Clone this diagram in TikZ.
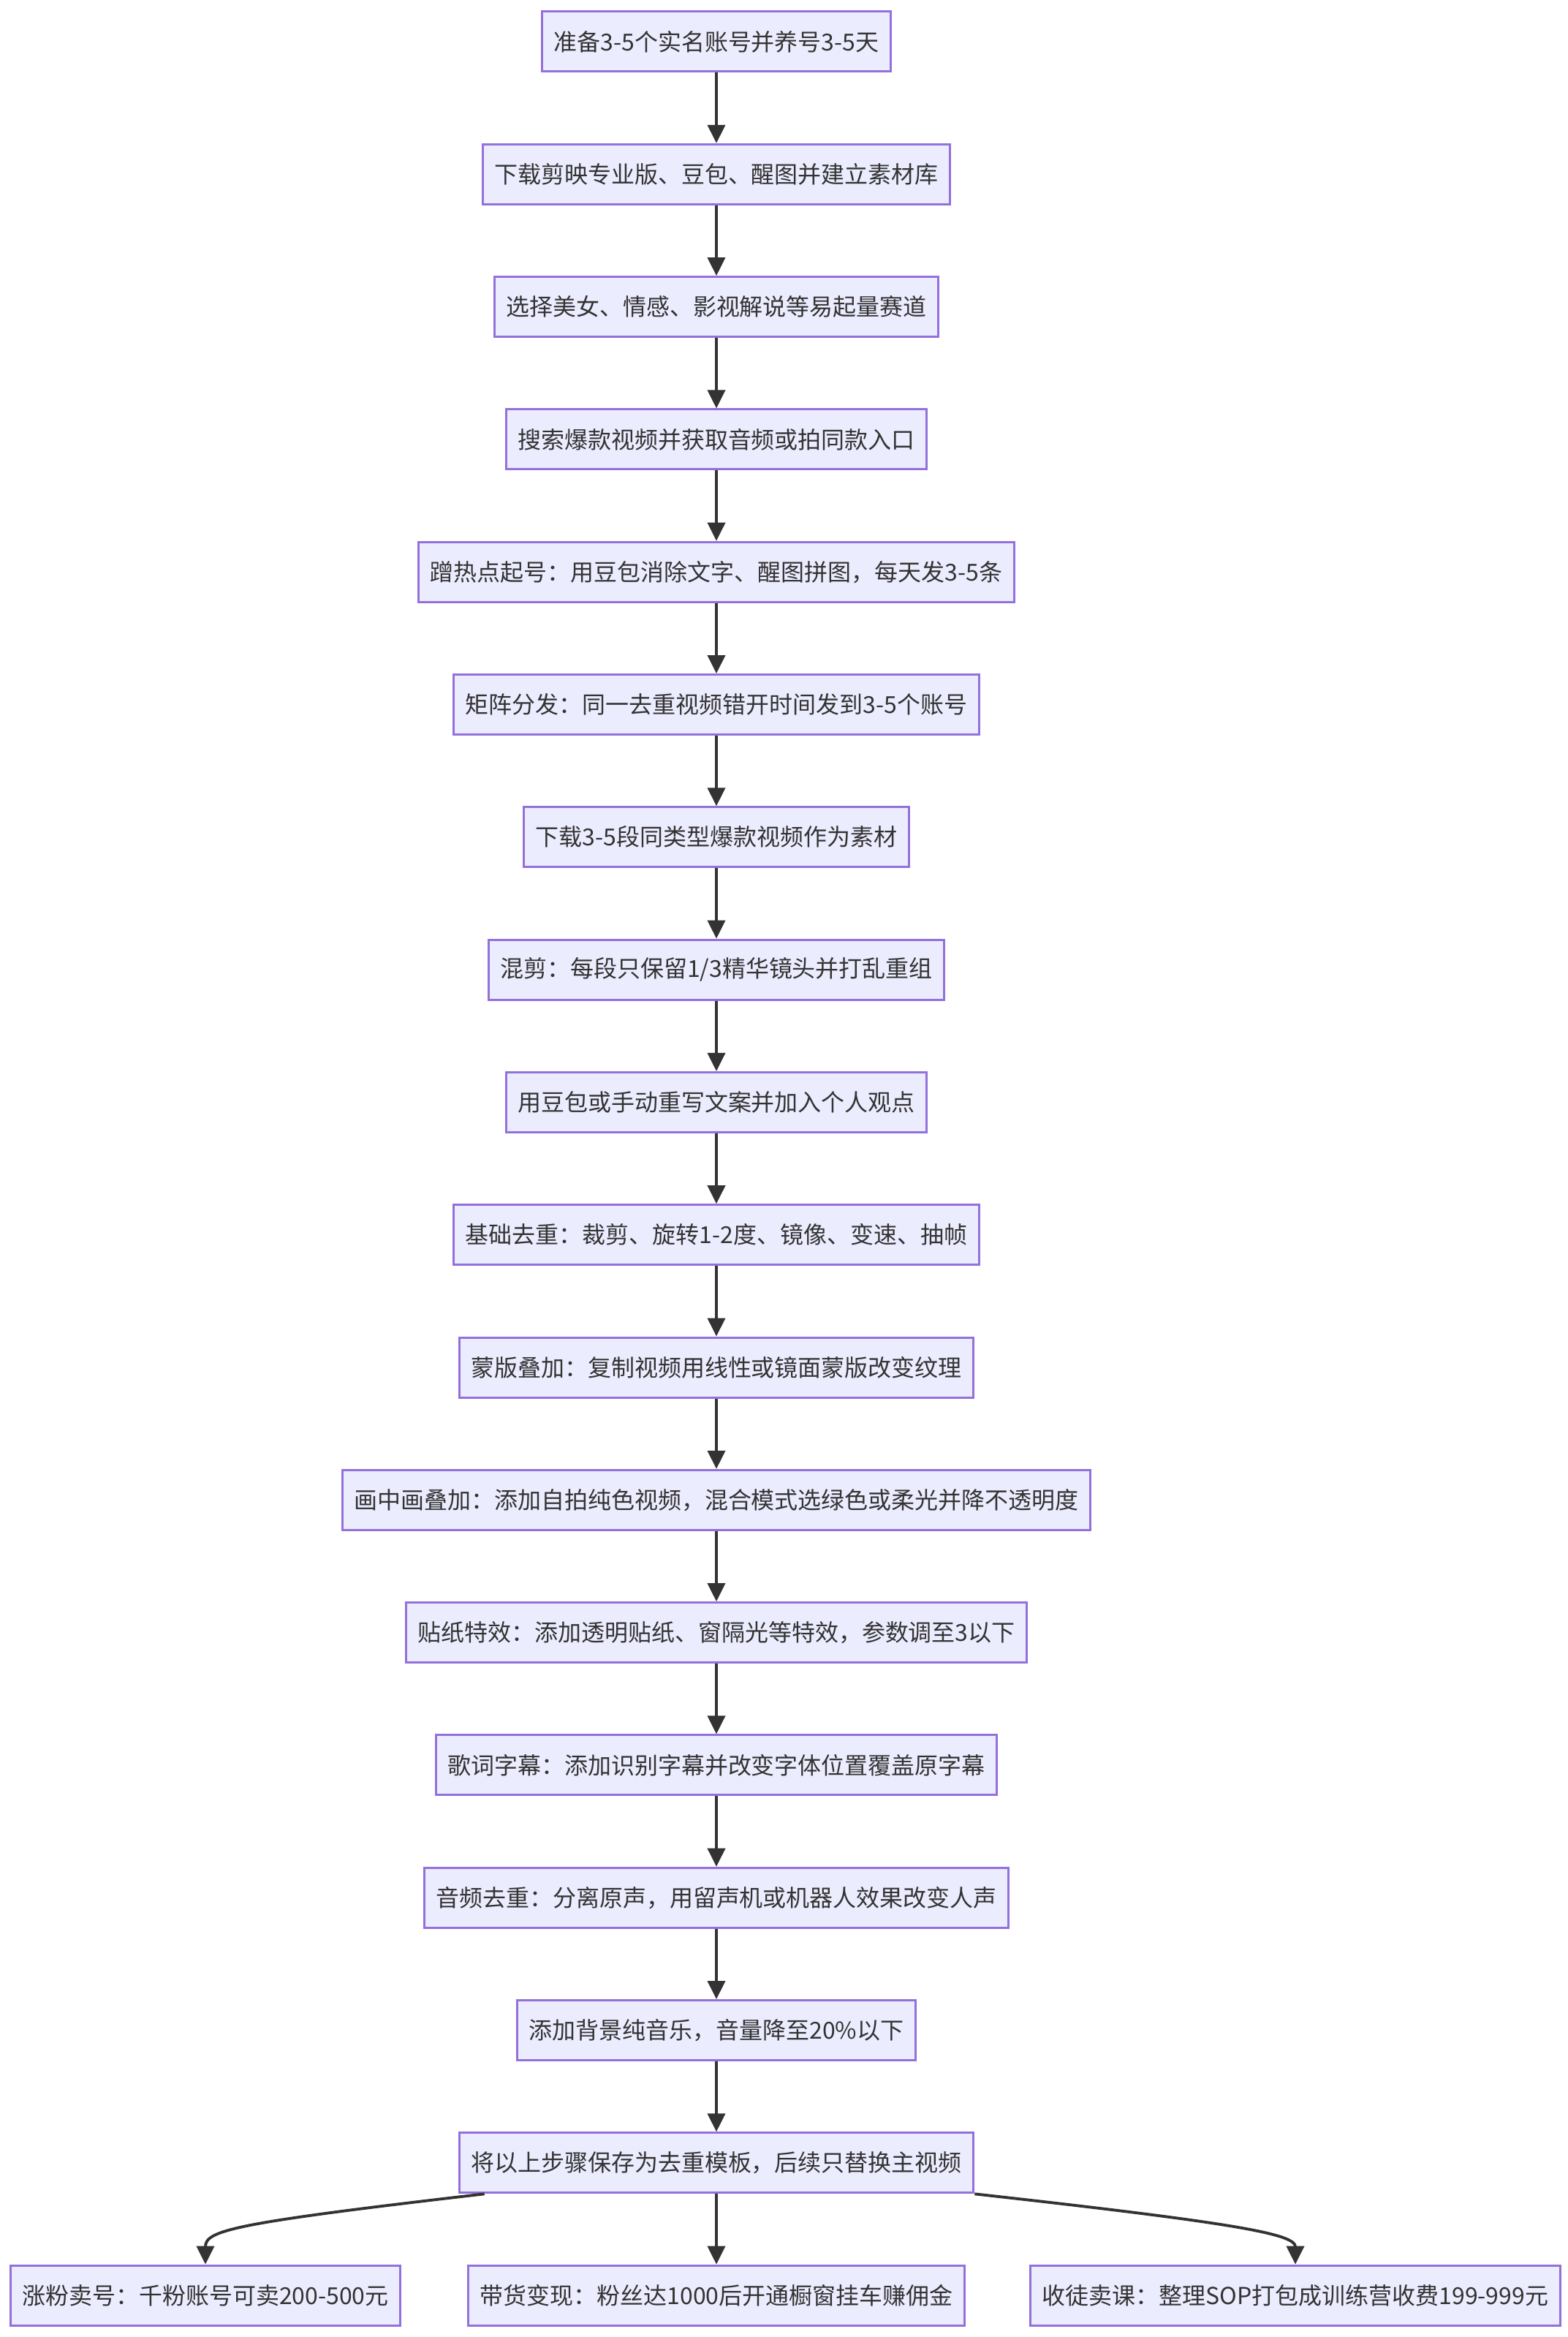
\documentclass[tikz,border=0pt]{standalone}
\usepackage{fontspec}
\newfontfamily\cjk{Noto Sans CJK SC}
\usepackage{tikz}
\usetikzlibrary{arrows.meta}
\definecolor{paleviolet}{HTML}{ECECFF}
\definecolor{boxpurple}{HTML}{9370DB}
\definecolor{linegrey}{HTML}{333333}

\begin{document}
\begin{tikzpicture}[
    >={Triangle[length=2.5mm,width=2.4mm]},
    stepbox/.style={
        draw=boxpurple,
        line width=0.85pt,
        fill=paleviolet,
        text=linegrey,
        font=\cjk\fontsize{9.1pt}{11pt}\selectfont,
        inner xsep=0.16cm,
        align=center,
        minimum height=0.82cm
    },
    arrow/.style={->, line width=1.1pt, draw=linegrey}
]

\fill[white] (0,0) rectangle (21.44,-31.96);
\useasboundingbox (0,0) rectangle (21.44,-31.96);

% ACCOUNTS AND TOOLS
\node[stepbox] (account) at (9.8,-0.57)
{准备3-5个实名账号并养号3-5天};

\node[stepbox] (tools) at (9.8,-2.383)
{下载剪映专业版、豆包、醒图并建立素材库};

\node[stepbox] (track) at (9.8,-4.196)
{选择美女、情感、影视解说等易起量赛道};

\node[stepbox] (search) at (9.8,-6.009)
{搜索爆款视频并获取音频或拍同款入口};

\node[stepbox] (hotspot) at (9.8,-7.822)
{蹭热点起号：用豆包消除文字、醒图拼图，每天发3-5条};

\node[stepbox] (matrix) at (9.8,-9.635)
{矩阵分发：同一去重视频错开时间发到3-5个账号};

\draw[arrow] (account) -- (tools);
\draw[arrow] (tools) -- (track);
\draw[arrow] (track) -- (search);
\draw[arrow] (search) -- (hotspot);
\draw[arrow] (hotspot) -- (matrix);

% REMIX AND DE-DUPLICATION
\node[stepbox] (material) at (9.8,-11.448)
{下载3-5段同类型爆款视频作为素材};

\node[stepbox] (remix) at (9.8,-13.261)
{混剪：每段只保留1/3精华镜头并打乱重组};

\node[stepbox] (script) at (9.8,-15.074)
{用豆包或手动重写文案并加入个人观点};

\node[stepbox] (basic) at (9.8,-16.887)
{基础去重：裁剪、旋转1-2度、镜像、变速、抽帧};

\node[stepbox] (mask) at (9.8,-18.70)
{蒙版叠加：复制视频用线性或镜面蒙版改变纹理};

\node[stepbox] (pip) at (9.8,-20.513)
{画中画叠加：添加自拍纯色视频，混合模式选绿色或柔光并降不透明度};

\node[stepbox] (sticker) at (9.8,-22.326)
{贴纸特效：添加透明贴纸、窗隔光等特效，参数调至3以下};

\node[stepbox] (lyrics) at (9.8,-24.139)
{歌词字幕：添加识别字幕并改变字体位置覆盖原字幕};

\node[stepbox] (audio) at (9.8,-25.952)
{音频去重：分离原声，用留声机或机器人效果改变人声};

\node[stepbox] (bgm) at (9.8,-27.765)
{添加背景纯音乐，音量降至20\%以下};

\node[stepbox] (template) at (9.8,-29.578)
{将以上步骤保存为去重模板，后续只替换主视频};

\draw[arrow] (matrix) -- (material);
\draw[arrow] (material) -- (remix);
\draw[arrow] (remix) -- (script);
\draw[arrow] (script) -- (basic);
\draw[arrow] (basic) -- (mask);
\draw[arrow] (mask) -- (pip);
\draw[arrow] (pip) -- (sticker);
\draw[arrow] (sticker) -- (lyrics);
\draw[arrow] (lyrics) -- (audio);
\draw[arrow] (audio) -- (bgm);
\draw[arrow] (bgm) -- (template);

% MONETISATION
\node[stepbox] (sellacc) at (2.81,-31.391)
{涨粉卖号：千粉账号可卖200-500元};

\node[stepbox] (goods) at (9.8,-31.391)
{带货变现：粉丝达1000后开通橱窗挂车赚佣金};

\node[stepbox] (course) at (17.72,-31.391)
{收徒卖课：整理SOP打包成训练营收费199-999元};

\draw[arrow] ([xshift=3.6mm]template.south west)
    .. controls (3.2,-30.4) and (2.81,-30.5) .. (sellacc.north);
\draw[arrow] (template) -- (goods);
\draw[arrow] (template.south east)
    .. controls (16.9,-30.4) and (17.72,-30.55) .. (course.north);

\end{tikzpicture}
\end{document}
